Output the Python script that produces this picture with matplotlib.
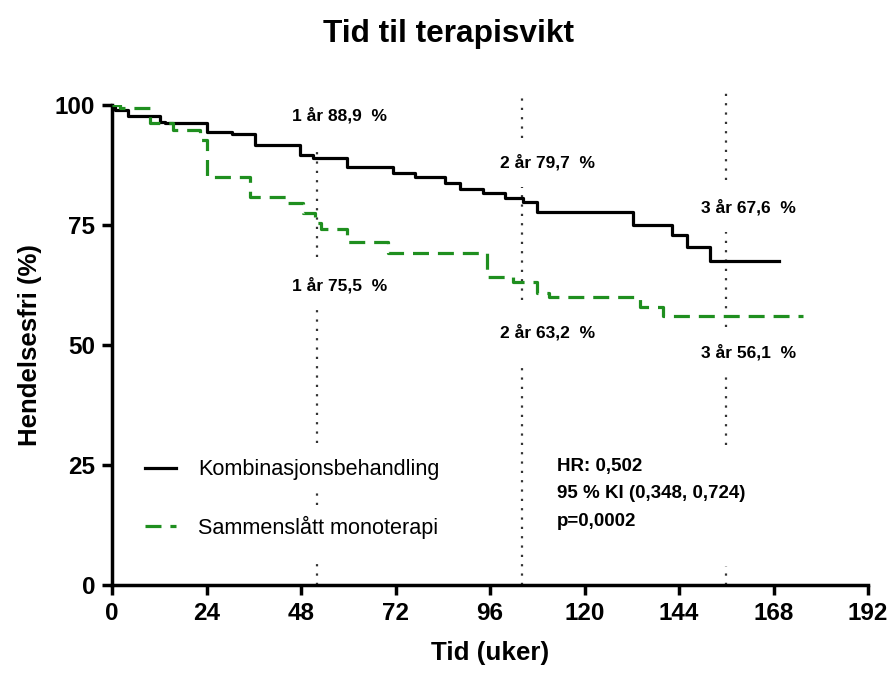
import matplotlib
matplotlib.use("Agg")
import matplotlib.pyplot as plt
from matplotlib.lines import Line2D

plt.rcParams["font.family"] = ["Liberation Sans", "DejaVu Sans"]

# Kaplan-Meier steps (weeks, % event free)
combo_weeks = [0, 0.8, 4, 12.2, 13.5, 24, 30.5, 36.3, 47.7, 51, 59.7, 71.4, 77, 84.6, 88.4,
               94.2, 99.8, 104.4, 108, 132.4, 142.2, 146, 151.9, 169.5]
combo_surv = [100, 99.0, 97.7, 96.5, 96.2, 94.4, 94.0, 91.7, 89.6, 88.9, 87.0, 85.8, 85.0, 83.7, 82.5,
              81.7, 80.6, 79.7, 77.8, 75.0, 72.9, 70.4, 67.6, 67.6]

mono_weeks = [0, 2, 9.7, 15.5, 22.3, 24, 35, 44.4, 48.5, 51.5, 53, 59.7, 70, 95.2, 101.8,
              108, 111, 134, 140, 175.5]
mono_surv = [100, 99.4, 96.2, 94.8, 92.7, 85.0, 80.8, 79.6, 77.5, 75.5, 74.2, 71.5, 69.2, 64.2, 63.2,
             60.8, 60.0, 58.0, 56.1, 56.1]

series_labels = ["Kombinasjonsbehandling", "Sammenslått monoterapi"]

landmark_weeks = [52, 104, 156]
landmark_top = ["1 år 88,9  %", "2 år 79,7  %", "3 år 67,6  %"]
landmark_bottom = ["1 år 75,5  %", "2 år 63,2  %", "3 år 56,1  %"]

stats_lines = ["HR: 0,502", "95 % KI (0,348, 0,724)", "p=0,0002"]

x_ticks = [0, 24, 48, 72, 96, 120, 144, 168, 192]
y_ticks = [0, 25, 50, 75, 100]

# where the dotted guides are visible (they are broken around the texts)
guide_segments = [
    [(68.3, 91.7), (29.6, 57.7), (16.7, 20.4), (0, 5.8)],
    [(93.1, 102.5), (59.4, 82.9), (0, 45.4)],
    [(84.4, 102.5), (53.8, 73.5), (29.2, 43.8), (0, 4.0)],
]
top_label_y = [97.9, 88.1, 78.8]
bottom_label_y = [62.5, 52.7, 48.5]
label_x = [57.9, 110.5, 161.7]

GREEN = "#1f8f1f"

fig = plt.figure(figsize=(8.96, 6.8), dpi=100)
ax = fig.add_axes([0.125, 0.1397, 0.8438, 0.7059])

for wk, segs in zip(landmark_weeks, guide_segments):
    for lo, hi in segs:
        ax.plot([wk, wk], [lo, hi], color="#333333", lw=1.6, linestyle=(0, (1, 3.2)),
                clip_on=False, zorder=1)

ax.step(combo_weeks, combo_surv, where="post", color="black", lw=2.3, zorder=3)
ax.step(mono_weeks, mono_surv, where="post", color=GREEN, lw=2.3, dashes=(5, 2.8), zorder=3)

for x, yt, yb, t_top, t_bot in zip(label_x, top_label_y, bottom_label_y, landmark_top, landmark_bottom):
    ax.text(x, yt, t_top, ha="center", va="center", fontsize=12.5, fontweight="bold")
    ax.text(x, yb, t_bot, ha="center", va="center", fontsize=12.5, fontweight="bold")

for line, y in zip(stats_lines, [24.6, 19.0, 13.3]):
    ax.text(113, y, line, ha="left", va="center", fontsize=13.5, fontweight="bold")

handles = [Line2D([], [], color="black", lw=2.3),
           Line2D([], [], color=GREEN, lw=2.3, dashes=(5, 2.8))]
ax.legend(handles, series_labels, loc="center left", bbox_to_anchor=(0.044, 0.179),
          frameon=False, fontsize=15.6, handlelength=1.4, handletextpad=1.05,
          labelspacing=1.65, borderpad=0, borderaxespad=0)

ax.set_xlim(0, 192)
ax.set_ylim(0, 100)
ax.set_xticks(x_ticks)
ax.set_yticks(y_ticks)
for s in ["top", "right"]:
    ax.spines[s].set_visible(False)
for s in ["left", "bottom"]:
    ax.spines[s].set_linewidth(2.5)
ax.tick_params(axis="both", direction="out", length=7, width=2.5, pad=5, labelsize=17.5)
for lab in ax.get_xticklabels() + ax.get_yticklabels():
    lab.set_fontweight("bold")

ax.set_xlabel("Tid (uker)", fontsize=18.7, fontweight="bold", labelpad=12)
ax.set_ylabel("Hendelsesfri (%)", fontsize=18.5, fontweight="bold", labelpad=9)

fig.text(0.5, 0.95, "Tid til terapisvikt", ha="center", va="center", fontsize=22.8, fontweight="bold")

fig.savefig("out.png", dpi=100)
